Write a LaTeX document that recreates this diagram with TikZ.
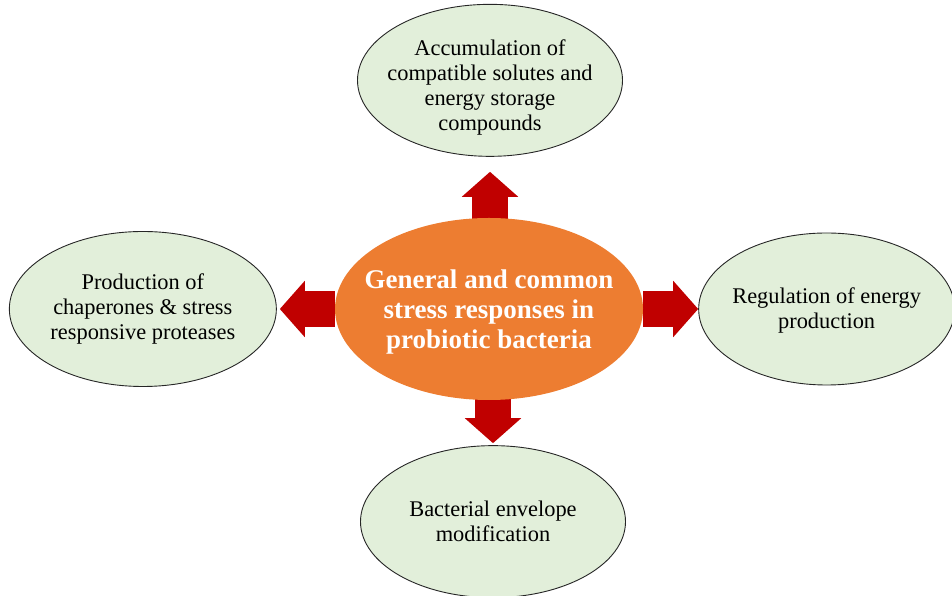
\documentclass[tikz,border=0pt]{standalone}
\usepackage{fontspec}
\setmainfont{Liberation Serif}
\usetikzlibrary{shapes.geometric,positioning,arrows.meta,backgrounds}

\definecolor{leafgreen}{HTML}{E2EFDA}
\definecolor{huborange}{HTML}{ED7D31}
\definecolor{arrowred}{HTML}{C00000}

\tikzset{
  hub/.style = {ellipse, fill=huborange, inner sep=0pt,
                minimum width=308pt, minimum height=182pt},
  hubtext/.style = {align=center, text=white, yshift=-3pt,
                    font=\fontsize{27}{30}\selectfont\bfseries},
  leaf/.style = {ellipse, draw=black!85, line width=0.9pt, fill=leafgreen,
                 inner sep=0pt, minimum width=265pt, minimum height=152pt},
  leaftext/.style = {align=center, font=\fontsize{22.4}{25}\selectfont},
  blockarrow/.style = {draw=arrowred, line width=36pt,
                       -{Triangle[width=55pt, length=25pt, fill=arrowred]}}
}

\begin{document}
\begin{tikzpicture}[x=1pt, y=1pt]
  \useasboundingbox (0,0) rectangle (952,596);

  \node[hub, label={[hubtext]center:{General and common\\stress responses in\\probiotic bacteria}}]
    (core) at (489,287) {};

  \node[leaf, above=61pt of core, xshift=1pt,
        label={[leaftext, yshift=-7pt]center:{Accumulation of\\compatible solutes and\\energy storage\\compounds}}]
    (accum) {};
  \node[leaf, left=58pt of core, minimum width=267pt, minimum height=155pt,
        label={[leaftext]center:{Production of\\chaperones \& stress\\responsive proteases}}]
    (chaperone) {};
  \node[leaf, right=55pt of core, minimum width=256pt,
        label={[leaftext, yshift=-2pt]center:{Regulation of energy\\production}}]
    (energy) {};
  \node[leaf, below=45pt of core, xshift=4pt,
        label={[leaftext]center:{Bacterial envelope\\modification}}]
    (envelope) {};

  % block arrows sit behind the hub
  \begin{scope}[on background layer]
    \draw[blockarrow, shorten >=15pt] (core.center -| accum.south) -- (accum.south);
    \draw[blockarrow, shorten >=3pt] (core) -- (chaperone.east);
    \draw[blockarrow] (core) -- (energy.west);
    \draw[blockarrow, shorten >=2pt] (core.center -| envelope.north) -- (envelope.north);
  \end{scope}
\end{tikzpicture}
\end{document}
